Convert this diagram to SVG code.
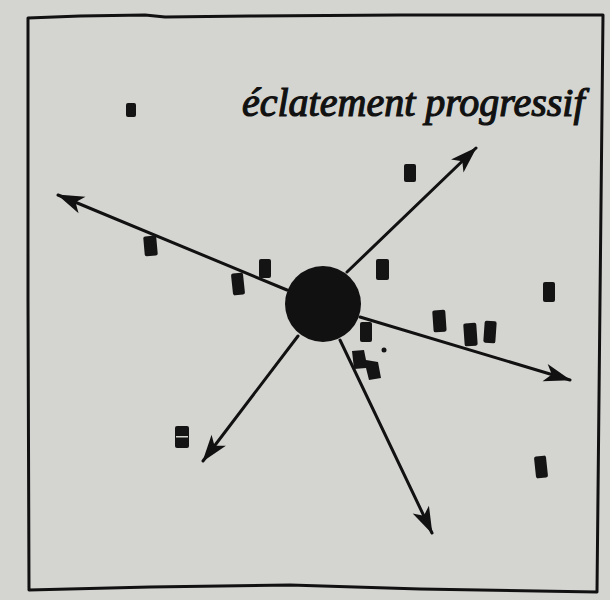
<svg xmlns="http://www.w3.org/2000/svg" width="610" height="600" viewBox="0 0 610 600">
<style>
.edge{stroke:#111;stroke-width:3;fill:none;stroke-linecap:round;marker-end:url(#ah)}
.frame{stroke:#111;stroke-width:3;fill:none;stroke-linejoin:round}
.bit{fill:#141414}
.lbl{font-family:"Liberation Serif","DejaVu Serif",serif;font-style:italic;font-size:40px;fill:#111;stroke:#111;stroke-width:1.2}
</style>
<defs>
<marker id="ah" viewBox="-28 -11 30 22" markerWidth="30" markerHeight="22" refX="0" refY="0" orient="auto" markerUnits="userSpaceOnUse">
<path d="M1,0 L-26,-9 L-19,0 L-26,9 Z" fill="#111"/>
</marker>
</defs>
<rect width="610" height="600" fill="#d4d5d1"/>
<path class="frame" d="M28,18 L80,16 L145,15 L165,17 L250,16 L400,15 L603,15 L600,300 L597,592 L420,589 L290,585 L150,587 L29,590 L28,300 Z"/>
<g id="connectors">
<line class="edge" x1="287" y1="290" x2="58" y2="195"/>
<line class="edge" x1="347" y1="272" x2="476" y2="148"/>
<line class="edge" x1="360" y1="317" x2="570" y2="380"/>
<line class="edge" x1="298" y1="336" x2="203" y2="461"/>
<line class="edge" x1="340" y1="340" x2="432" y2="533"/>
</g>
<g id="center"><circle cx="323" cy="304" r="38" fill="#111"/></g>
<g id="fragments">
<rect class="bit" x="126" y="103" width="10" height="14" rx="2"/>
<rect class="bit" x="404" y="164" width="12" height="18" rx="2"/>
<rect class="bit" x="144" y="236" width="13" height="20" rx="2" transform="rotate(-5 150 246)"/>
<rect class="bit" x="232" y="273" width="12" height="22" rx="2" transform="rotate(-6 238 284)"/>
<rect class="bit" x="259" y="259" width="12" height="19" rx="2"/>
<rect class="bit" x="376" y="259" width="13" height="21" rx="2"/>
<rect class="bit" x="543" y="282" width="12" height="20" rx="2"/>
<rect class="bit" x="433" y="310" width="13" height="22" rx="2" transform="rotate(-4 440 322)"/>
<rect class="bit" x="464" y="323" width="13" height="23" rx="2" transform="rotate(-4 471 335)"/>
<rect class="bit" x="484" y="321" width="12" height="22" rx="2" transform="rotate(4 490 332)"/>
<rect class="bit" x="360" y="322" width="12" height="20" rx="2"/>
<path class="bit" d="M352,351 L364,350 L366,360 L378,362 L381,378 L369,380 L366,368 L354,369 Z"/>
<circle class="bit" cx="384" cy="350" r="2.5"/>
<rect class="bit" x="175" y="426" width="14" height="22" rx="2"/>
<rect x="176" y="436" width="12" height="1.5" fill="#d4d5d1"/>
<rect class="bit" x="535" y="456" width="12" height="22" rx="2" transform="rotate(-6 541 467)"/>
</g>
<g id="title">
<text class="lbl" x="242" y="116">éclatement progressif</text>
</g>
</svg>
